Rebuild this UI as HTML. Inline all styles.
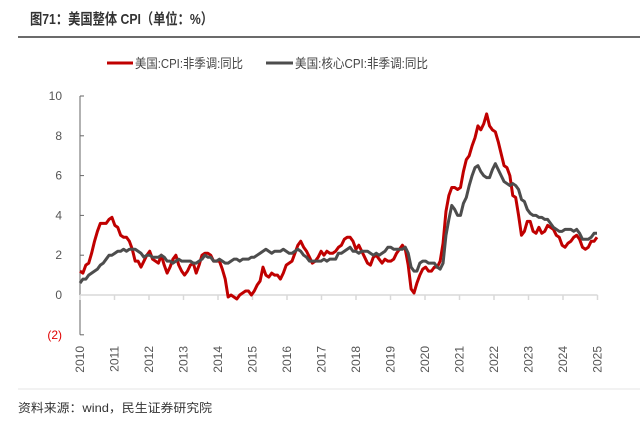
<!DOCTYPE html>
<html><head><meta charset="utf-8"><style>
body{margin:0;background:#fff;width:640px;height:421px;overflow:hidden;font-family:"Liberation Sans","Noto Sans CJK SC",sans-serif}
</style></head><body>
<svg width="640" height="421" xmlns="http://www.w3.org/2000/svg">
<text x="30" y="24" font-size="15" font-weight="bold" fill="#333" textLength="183" lengthAdjust="spacingAndGlyphs" font-family="Liberation Sans, Noto Sans CJK SC, sans-serif">图71：美国整体 CPI（单位：%）</text>
<line x1="18" y1="37" x2="640" y2="37" stroke="#6b6b6b" stroke-width="2"/>
<g font-size="13" fill="#444" font-family="Liberation Sans, Noto Sans CJK SC, sans-serif">
<g><line x1="107" y1="63" x2="133" y2="63" stroke="#c00000" stroke-width="3"/><text x="135" y="68" textLength="108" lengthAdjust="spacingAndGlyphs">美国:CPI:非季调:同比</text></g>
<g><line x1="266" y1="63" x2="293" y2="63" stroke="#4d4d4d" stroke-width="3"/><text x="295" y="68" textLength="133" lengthAdjust="spacingAndGlyphs">美国:核心CPI:非季调:同比</text></g>
</g>
<g id="axes"></g>
<g id="series"></g>
<line x1="18" y1="389" x2="640" y2="389" stroke="#e4e4e4" stroke-width="1"/>
<text x="18" y="412" font-size="12" fill="#333" textLength="194" lengthAdjust="spacingAndGlyphs" font-family="Liberation Sans, Noto Sans CJK SC, sans-serif">资料来源：wind，民生证券研究院</text>
</svg>
<script>
const yTicks=[10,8,6,4,2,0,-2];
const yearLabels=["2010","2011","2012","2013","2014","2015","2016","2017","2018","2019","2020","2021","2022","2023","2024","2025"];
const cpi=[1.2,1.1,1.5,
1.6,2.1,2.7,3.2,3.6,3.6,3.6,3.8,3.9,3.5,3.4,3.0,
2.9,2.9,2.7,2.3,1.7,1.7,1.4,1.7,2.0,2.2,1.8,1.7,
1.6,2.0,1.5,1.1,1.4,1.8,2.0,1.5,1.2,1.0,1.2,1.5,
1.6,1.1,1.5,2.0,2.1,2.1,2.0,1.7,1.7,1.7,1.3,0.8,
-0.1,0.0,-0.1,-0.2,0.0,0.1,0.2,0.2,0.0,0.2,0.5,0.7,
1.4,1.0,0.9,1.1,1.0,1.0,0.8,1.1,1.5,1.6,1.7,2.1,
2.5,2.7,2.4,2.2,1.9,1.6,1.7,1.9,2.2,2.0,2.2,2.1,
2.1,2.2,2.4,2.5,2.8,2.9,2.9,2.7,2.3,2.5,2.2,1.9,
1.6,1.5,1.9,2.0,1.8,1.6,1.8,1.7,1.7,1.8,2.1,2.3,
2.5,2.3,1.5,0.3,0.1,0.6,1.0,1.3,1.4,1.2,1.2,1.4,
1.4,1.7,2.6,4.2,5.0,5.4,5.4,5.3,5.4,6.2,6.8,7.0,
7.5,7.9,8.5,8.3,8.6,9.1,8.5,8.3,8.2,7.7,7.1,6.5,
6.4,6.0,5.0,4.9,4.0,3.0,3.2,3.7,3.7,3.2,3.1,3.4,
3.1,3.2,3.5,3.4,3.3,3.0,2.9,2.5,2.4,2.6,2.7,2.9,
3.0,2.8,2.4,2.3,2.4,2.7,2.7,2.9];
const core=[0.6,0.8,0.8,
1.0,1.1,1.2,1.3,1.5,1.6,1.8,2.0,2.0,2.1,2.2,2.2,
2.3,2.2,2.3,2.3,2.3,2.2,2.1,1.9,2.0,2.0,1.9,1.9,
1.9,2.0,1.9,1.7,1.7,1.6,1.7,1.8,1.7,1.7,1.7,1.7,
1.6,1.6,1.7,1.8,2.0,1.9,1.9,1.7,1.7,1.8,1.7,1.6,
1.6,1.7,1.8,1.8,1.7,1.8,1.8,1.8,1.9,1.9,2.0,2.1,
2.2,2.3,2.2,2.1,2.2,2.2,2.2,2.3,2.2,2.1,2.1,2.2,
2.3,2.2,2.0,1.9,1.7,1.7,1.7,1.7,1.7,1.8,1.7,1.8,
1.8,1.8,2.1,2.1,2.2,2.3,2.4,2.2,2.2,2.1,2.2,2.2,
2.2,2.1,2.0,2.1,2.0,2.1,2.2,2.4,2.4,2.3,2.3,2.3,
2.3,2.4,2.1,1.4,1.2,1.2,1.6,1.7,1.7,1.6,1.6,1.6,
1.4,1.3,1.6,3.0,3.8,4.5,4.3,4.0,4.0,4.6,4.9,5.5,
6.0,6.4,6.5,6.2,6.0,5.9,5.9,6.3,6.6,6.3,6.0,5.7,
5.6,5.5,5.6,5.5,5.3,4.8,4.7,4.3,4.1,4.0,4.0,3.9,
3.9,3.8,3.8,3.6,3.4,3.3,3.2,3.2,3.3,3.3,3.3,3.2,
3.3,3.1,2.8,2.8,2.8,2.9,3.1,3.1];
const NS="http://www.w3.org/2000/svg";
const X0=80, YEAR=34.5, XEND=597;
function yS(v){return 295-v*19.9;}
function xYear(k){return X0+k*YEAR;}
function xMonth(i,n){return X0+i*(XEND-X0)/(n-1);}
const axes=document.getElementById('axes');
function mk(tag,attrs,parent){const e=document.createElementNS(NS,tag);for(const k in attrs)e.setAttribute(k,attrs[k]);parent.appendChild(e);return e;}
const yAxis=mk('line',{x1:X0,y1:yS(10),x2:X0,y2:yS(-2),stroke:'#666','stroke-width':1},axes);


yTicks.forEach(v=>{
  const t=mk('line',{x1:X0,y1:yS(v),x2:X0+4,y2:yS(v),stroke:'#666','stroke-width':1},axes);
  
  
  const l=mk('text',{x:62,y:yS(v)+4,'text-anchor':'end','font-size':12,fill:v<0?'#e00000':'#555'},axes);
  l.textContent=v<0?'('+(-v)+')':String(v);
  
  
});
const zl=mk('line',{x1:X0,y1:yS(0),x2:xYear(15),y2:yS(0),stroke:'#d9d9d9','stroke-width':1.5},axes);


yearLabels.forEach((lab,k)=>{
  const x=xYear(k);
  const t=mk('line',{x1:x,y1:yS(0),x2:x,y2:yS(0)+5,stroke:'#d9d9d9','stroke-width':1.5},axes);
  
  
  const l=mk('text',{x:0,y:0,'font-size':12,fill:'#555','text-anchor':'end',transform:`translate(${x+4},346) rotate(-90)`},axes);
  l.textContent=lab;
  
  
});
const series=document.getElementById('series');
function path(arr,color,name){
  const d=arr.map((v,i)=>(i?'L':'M')+xMonth(i,arr.length).toFixed(2)+' '+yS(v).toFixed(2)).join(' ');
  const p=mk('path',{d:d,fill:'none',stroke:color,'stroke-width':3,'stroke-linejoin':'round'},series);
  
  
}
path(cpi,'#c00000','cpi-line');
path(core,'#4d4d4d','core-cpi-line');
</script>
</body></html>
